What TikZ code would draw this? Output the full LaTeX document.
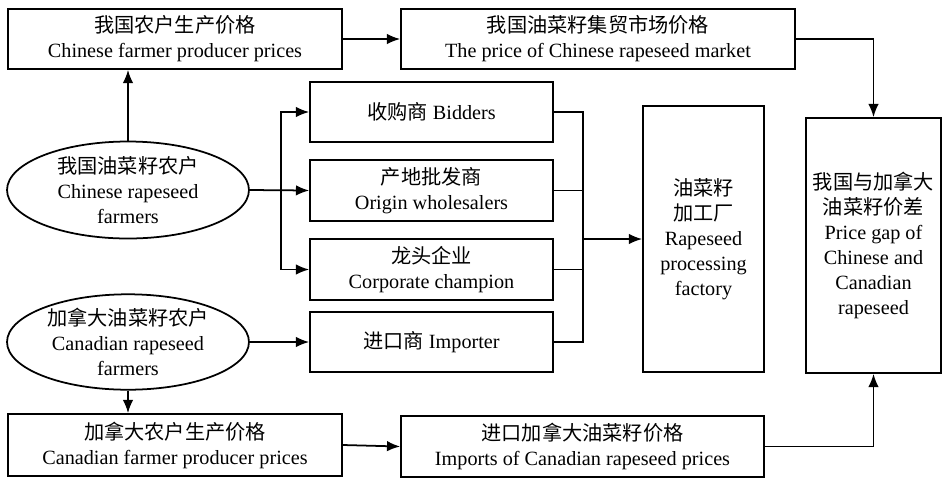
\documentclass[tikz,border=0pt]{standalone}
\usepackage{fontspec}
\setmainfont{Liberation Serif}
\newfontfamily\cjk{Noto Sans CJK SC}
\usetikzlibrary{shapes.geometric, arrows.meta}

\begin{document}
\begin{tikzpicture}[x=0.02cm, y=-0.02cm,
        font=\fontsize{11.5}{14.2}\selectfont,
        box/.style={draw, line width=1pt, rectangle, align=center, inner sep=0pt},
        farm/.style={draw, line width=1pt, ellipse, align=center, inner sep=0pt, minimum width=4.84cm},
        conn/.style={line width=1pt, ->, >={Latex[length=7.5pt,width=6pt]}},
        line/.style={line width=1pt}]

        \useasboundingbox (0,0) rectangle (943,478);

        % Price boxes on top
        \node at (175,39) [box, minimum width=6.68cm, minimum height=1.2cm] (cnprice) {{\cjk 我国农户生产价格}\\Chinese farmer producer prices};
        \node at (598,39) [box, minimum width=7.88cm, minimum height=1.2cm] (market) {{\cjk 我国油菜籽集贸市场价格}\\The price of Chinese rapeseed market};

        % Farmers
        \node at (128,190) [farm, minimum height=1.94cm] (cnfarm) {{\cjk 我国油菜籽农户}\\Chinese rapeseed\\farmers};
        \node at (128,342) [farm, minimum height=1.88cm] (cafarm) {{\cjk 加拿大油菜籽农户}\\Canadian rapeseed\\farmers};

        % Traders
        \node at (431.5,112) [box, minimum width=4.86cm, minimum height=1.2cm] (bidders) {{\cjk 收购商} Bidders};
        \node at (431.5,190.5) [box, minimum width=4.86cm, minimum height=1.22cm] (origin) {{\cjk 产地批发商}\\Origin wholesalers};
        \node at (431.5,269.5) [box, minimum width=4.86cm, minimum height=1.22cm] (corp) {{\cjk 龙头企业}\\Corporate champion};
        \node at (431.5,342) [box, minimum width=4.86cm, minimum height=1.2cm] (importer) {{\cjk 进口商} Importer};

        % Factory and price gap
        \node at (703.5,239) [box, minimum width=2.42cm, minimum height=5.32cm] (factory) {{\cjk 油菜籽}\\{\cjk 加工厂}\\Rapeseed\\processing\\factory};
        \node at (873.5,245.5) [box, minimum width=2.7cm, minimum height=5.1cm] (gap) {{\cjk 我国与加拿大}\\{\cjk 油菜籽价差}\\Price gap of\\Chinese and\\Canadian\\rapeseed};

        % Price boxes at the bottom
        \node at (175,445) [box, minimum width=6.68cm, minimum height=1.24cm] (caprice) {{\cjk 加拿大农户生产价格}\\Canadian farmer producer prices};
        \node at (582.5,446.5) [box, minimum width=7.26cm, minimum height=1.22cm] (imports) {{\cjk 进口加拿大油菜籽价格}\\Imports of Canadian rapeseed prices};

        \coordinate (split) at (281,190);
        \coordinate (merge) at (583,239);

        % Arrows
        \draw [conn] (cnfarm.north) -- (cnfarm.north |- cnprice.south);
        \draw [conn] (cnprice.east) -- (market.west);
        \draw [conn] (market.east) -| (gap.north);
        \draw [conn] (cnfarm.east) -- (origin.west);
        \draw [conn] (split) |- (bidders.west);
        \draw [conn] (split) |- (corp.west);
        \draw [conn] (cafarm.east) -- (importer.west);
        \draw [conn] (cafarm.south) -- (cafarm.south |- caprice.north);
        \draw [conn] (caprice.east) -- (imports.west);
        \draw [conn] (imports.east) -| (gap.south);

        % Traders to factory
        \draw [line] (bidders.east) -| (merge) |- (importer.east);
        \draw [line] (origin.east) -- (origin.east -| merge);
        \draw [line] (corp.east) -- (corp.east -| merge);
        \draw [conn] (merge) -- (factory.west);

    \end{tikzpicture}
\end{document}
